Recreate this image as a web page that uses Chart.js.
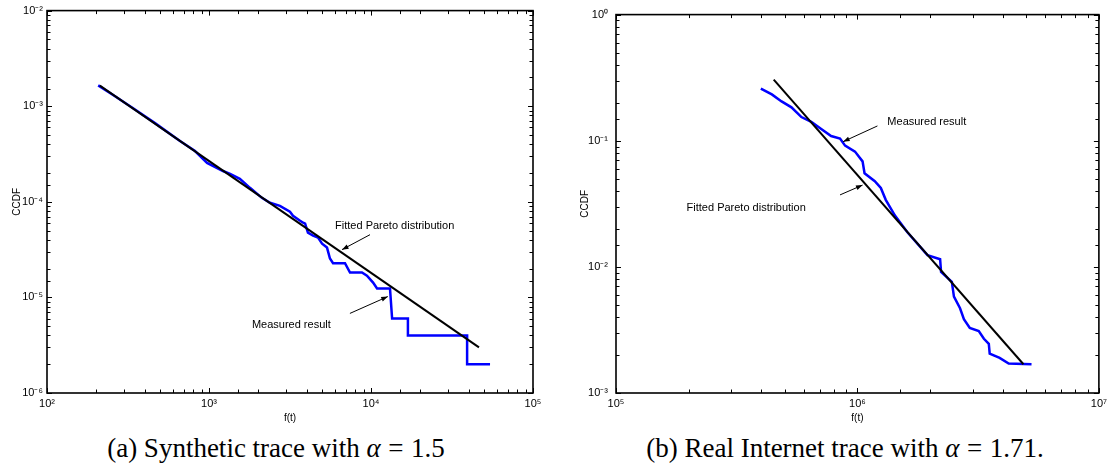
<!DOCTYPE html>
<html>
<head>
<meta charset="utf-8">
<script src="https://cdn.jsdelivr.net/npm/chart.js@4.4.0/dist/chart.umd.min.js"></script>
<style>
  body { margin: 0; background: #fff; width: 1111px; height: 470px; position: relative; overflow: hidden; }
  canvas { position: absolute; top: 0; }
  .cap { position: absolute; top: 433px; font-family: "Liberation Serif", "Times New Roman", serif; font-size: 27px; line-height: 30px; color: #000; text-align: center; white-space: nowrap; }
  .cap i { font-style: italic; }
  .cap .eq { margin: 0 0.28em; }
</style>
</head>
<body>
<canvas id="synth" width="555" height="430" style="left:0"></canvas>
<canvas id="real" width="556" height="430" style="left:555px"></canvas>
<div class="cap" style="left:46px;width:460px">(a) Synthetic trace with <i>α</i><span class="eq">=</span>1.5</div>
<div class="cap" style="left:615px;width:460px">(b) Real Internet trace with <i>α</i><span class="eq">=</span>1.71.</div>
<script>
// (a) synthetic trace - measured CCDF
const synthX = [207, 263, 340, 464, 662, 820, 973, 1220, 1350, 1550, 1790, 2120, 2380, 2740, 3160, 3300, 3650, 3810, 3920,
    4080, 4390, 4710, 4990, 5350, 5580, 5830, 6910, 7420, 8790, 9440, 10300, 10900, 13100, 13500, 16900, 16900, 39200, 39200, 54300]
const synthY = [1.65e-3, 1.27e-3, 9.5e-4, 6.65e-4, 4.32e-4, 3.4e-4, 2.55e-4, 2.1e-4, 1.96e-4, 1.74e-4, 1.40e-4, 1.10e-4, 9.77e-5, 9.08e-5, 7.87e-5, 7.15e-5, 6.34e-5, 6.04e-5, 5.9e-5,
    4.75e-5, 4.43e-5, 4.22e-5, 3.65e-5, 3.32e-5, 2.55e-5, 2.28e-5, 2.28e-5, 1.82e-5, 1.82e-5, 1.69e-5, 1.43e-5, 1.24e-5, 1.24e-5, 6.0e-6, 6.0e-6, 4.0e-6, 4.0e-6, 2.0e-6, 2.0e-6]
// (a) fitted pareto (end points)
const synthFitX = [212, 46400]
const synthFitY = [1.64e-3, 3.0e-6]

// (b) real internet trace - measured CCDF
const realX = [3.98e5, 4.42e5, 4.85e5, 5.33e5, 5.86e5, 6.44e5, 7.08e5, 7.78e5, 8.47e5, 8.89e5, 9.77e5, 1.05e6, 1.07e6, 1.18e6, 1.25e6,
    1.31e6, 1.43e6, 1.61e6, 1.95e6, 2.2e6, 2.22e6, 2.46e6, 2.51e6, 2.66e6, 2.76e6, 2.92e6, 3.18e6, 3.34e6, 3.5e6, 3.53e6, 3.88e6, 4.23e6, 5.26e6]
const realY = [0.259, 0.233, 0.205, 0.184, 0.154, 0.141, 0.124, 0.109, 0.104, 0.0914, 0.082, 0.0686, 0.0552, 0.0478, 0.0422,
    0.034, 0.0255, 0.0188, 0.0124, 0.0115, 0.0091, 0.0076, 0.0058, 0.0047, 0.00385, 0.00328, 0.0031, 0.00269, 0.00245, 0.00205, 0.0019, 0.00171, 0.00169]
// (b) fitted pareto (end points)
const realFitX = [4.5e5, 4.87e6]
const realFitY = [0.305, 1.69e-3]

// axis ranges
const synthXRange = [1e2, 1e5]
const synthYRange = [1e-6, 1e-2]
const realXRange = [1e5, 1e7]
const realYRange = [1e-3, 1]

Chart.defaults.font.family = '"Liberation Sans", Arial, sans-serif'
Chart.defaults.color = '#000'

const sup = { '-': '⁻', '0': '⁰', '1': '¹', '2': '²', '3': '³', '4': '⁴', '5': '⁵', '6': '⁶', '7': '⁷', '8': '⁸', '9': '⁹' }

function isPow10(v) {
    let l = Math.log10(v)
    return Math.abs(l - Math.round(l)) < 1e-9
}

function powLabel(v) {
    if (!isPow10(v)) return ''
    let e = String(Math.round(Math.log10(v)))
    return '10' + e.split('').map(c => sup[c]).join('')
}

function pts(xs, ys) {
    return xs.map((x, i) => ({ x: x, y: ys[i] }))
}

// cadre + petites graduations vers l'interieur + annotations
const boxPlugin = {
    id: 'box',
    afterDatasetsDraw(chart, args, opts) {
        const { ctx, chartArea: a, scales: { x, y } } = chart
        ctx.save()
        ctx.strokeStyle = '#000'
        ctx.lineWidth = 1
        ctx.beginPath()
        x.ticks.forEach(t => {
            const px = Math.round(x.getPixelForValue(t.value)) + 0.5
            const len = isPow10(t.value) ? 5 : 3.5
            ctx.moveTo(px, a.bottom); ctx.lineTo(px, a.bottom - len)
            ctx.moveTo(px, a.top); ctx.lineTo(px, a.top + len)
        })
        y.ticks.forEach(t => {
            const py = Math.round(y.getPixelForValue(t.value)) + 0.5
            const len = isPow10(t.value) ? 5 : 3.5
            ctx.moveTo(a.left, py); ctx.lineTo(a.left + len, py)
            ctx.moveTo(a.right, py); ctx.lineTo(a.right - len, py)
        })
        ctx.stroke()
        ctx.lineWidth = 1.6
        ctx.strokeRect(a.left, a.top, a.right - a.left, a.bottom - a.top)

        // annotations
        ctx.font = '11px "Liberation Sans", Arial, sans-serif'
        ctx.fillStyle = '#000'
        ctx.textBaseline = 'middle'
        ctx.lineWidth = 1
        opts.notes.forEach(n => {
            ctx.fillText(n.text, x.getPixelForValue(n.tx), y.getPixelForValue(n.ty))
            const x0 = x.getPixelForValue(n.from[0]), y0 = y.getPixelForValue(n.from[1])
            const x1 = x.getPixelForValue(n.to[0]), y1 = y.getPixelForValue(n.to[1])
            ctx.beginPath()
            ctx.moveTo(x0, y0); ctx.lineTo(x1, y1)
            ctx.stroke()
            const ang = Math.atan2(y1 - y0, x1 - x0)
            ctx.beginPath()
            ctx.moveTo(x1, y1)
            ctx.lineTo(x1 - 7 * Math.cos(ang - 0.35), y1 - 7 * Math.sin(ang - 0.35))
            ctx.lineTo(x1 - 7 * Math.cos(ang + 0.35), y1 - 7 * Math.sin(ang + 0.35))
            ctx.closePath()
            ctx.fill()
        })
        ctx.restore()
    }
}

function makeChart(id, measured, fit, xr, yr, yWidth, yPad, titlePad, padRight, notes) {
    new Chart(document.getElementById(id), {
        type: 'scatter',
        data: {
            datasets: [
                {
                    label: 'Fitted Pareto distribution',
                    data: fit,
                    showLine: true,
                    borderColor: '#000',
                    borderWidth: 2,
                    pointRadius: 0
                },
                {
                    label: 'Measured result',
                    data: measured,
                    showLine: true,
                    borderColor: '#0000ff',
                    borderWidth: 2.5,
                    pointRadius: 0
                }
            ]
        },
        options: {
            responsive: false,
            animation: false,
            layout: { padding: { top: 9, right: padRight, left: 0, bottom: 0 } },
            plugins: {
                legend: { display: false },
                tooltip: { enabled: false },
                box: { notes: notes }
            },
            scales: {
                x: {
                    type: 'logarithmic',
                    min: xr[0],
                    max: xr[1],
                    grid: { display: false, drawTicks: false },
                    border: { display: false },
                    ticks: { autoSkip: false, maxRotation: 0, padding: 4, font: { size: 11 }, callback: v => powLabel(v) },
                    title: { display: true, text: 'f(t)', font: { size: 10 }, padding: { top: 0, bottom: 6 } },
                    afterFit: s => { s.height = 37 }
                },
                y: {
                    type: 'logarithmic',
                    min: yr[0],
                    max: yr[1],
                    grid: { display: false, drawTicks: false },
                    border: { display: false },
                    ticks: { autoSkip: false, padding: yPad, font: { size: 11 }, callback: v => powLabel(v) },
                    title: { display: true, text: 'CCDF', font: { size: 10 }, padding: { top: titlePad, bottom: 0 } },
                    afterFit: s => { s.width = yWidth }
                }
            }
        },
        plugins: [boxPlugin]
    })
}

makeChart('synth', pts(synthX, synthY), pts(synthFitX, synthFitY), synthXRange, synthYRange, 47, 4, 11, 22, [
    { text: 'Fitted Pareto distribution', tx: 6000, ty: 5.6e-5, from: [9860, 4.53e-5], to: [6620, 3.16e-5] },
    { text: 'Measured result', tx: 1840, ty: 5.1e-6, from: [7410, 6.8e-6], to: [12700, 1.02e-5] }
])

makeChart('real', pts(realX, realY), pts(realFitX, realFitY), realXRange, realYRange, 61, 8, 24, 8, [
    { text: 'Measured result', tx: 1.33e6, ty: 0.141, from: [1.21e6, 0.131], to: [8.72e5, 0.0983] },
    { text: 'Fitted Pareto distribution', tx: 1.96e5, ty: 0.0294, from: [8.47e5, 0.0372], to: [1.05e6, 0.0445] }
])
</script>
</body>
</html>
